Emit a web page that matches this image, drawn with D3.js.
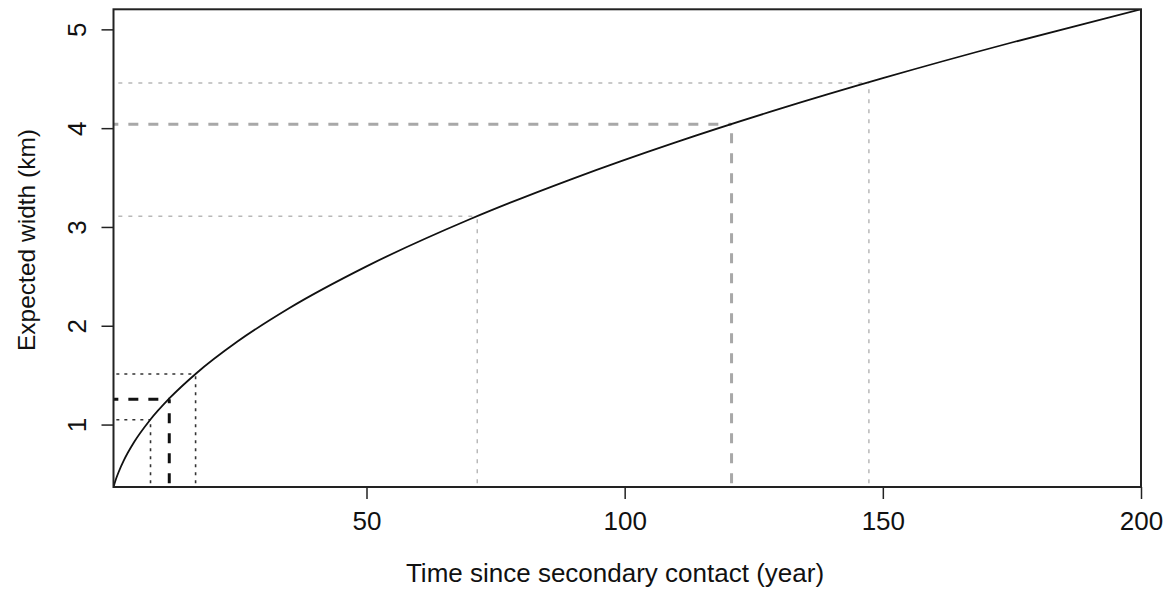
<!DOCTYPE html>
<html>
<head>
<meta charset="utf-8">
<script src="https://cdn.jsdelivr.net/npm/d3@7"></script>
<style>
  html, body { margin: 0; padding: 0; background: #fff; }
  svg { display: block; font-family: "Liberation Sans", Arial, Helvetica, sans-serif; }
</style>
</head>
<body>
<svg id="chart" width="1173" height="589"></svg>
<script>
// Expected cline width over time since secondary contact
const timePoints  = [1, 1.5, 2, 3, 5, 8, 12, 17, 25, 35, 50, 70, 90, 110, 130, 150, 175, 200];
const widthPoints = [0.368, 0.451, 0.520, 0.637, 0.823, 1.041, 1.274, 1.517, 1.840, 2.177, 2.601, 3.078, 3.490, 3.859, 4.195, 4.506, 4.867, 5.203];

// Reference markers: time (year) and the corresponding expected width (km)
const recentTimes   = [8.17, 11.8, 16.9];
const recentWidths  = [1.048, 1.257, 1.511];
const recentStyles  = ["dotted", "dashed", "dotted"];

const olderTimes    = [71.45, 120.7, 147.3];
const olderWidths   = [3.108, 4.04, 4.458];
const olderStyles   = ["dotted", "dashed", "dotted"];

const xTicks = [50, 100, 150, 200];
const yTicks = [1, 2, 3, 4, 5];

const xLabel = "Time since secondary contact (year)";
const yLabel = "Expected width (km)";

const svg = d3.select("#chart");
const plotLeft = 113.5, plotRight = 1141, plotTop = 9.3, plotBottom = 487;

const x = d3.scaleLinear().domain([1, 200]).range([plotLeft, plotRight]);
const y = d3.scaleLinear().domain([0.368, 5.203]).range([plotBottom, plotTop]);

svg.append("clipPath").attr("id", "plotClip")
  .append("rect").attr("x", plotLeft).attr("y", plotTop)
  .attr("width", plotRight - plotLeft).attr("height", plotBottom - plotTop);

const plot = svg.append("g").attr("clip-path", "url(#plotClip)");

// Guide segments: horizontal from t = 0 to the curve, vertical from width = 0 up to the curve
function drawGuides(times, widths, styles, look) {
  times.forEach((t, i) => {
    const st = look[styles[i]];
    const segs = [
      [x(0), y(widths[i]), x(t), y(widths[i])],
      [x(t), y(0), x(t), y(widths[i])]
    ];
    segs.forEach(s => {
      plot.append("line")
        .attr("x1", s[0]).attr("y1", s[1]).attr("x2", s[2]).attr("y2", s[3])
        .attr("stroke", st.color).attr("stroke-width", st.width)
        .attr("stroke-dasharray", st.dash);
    });
  });
}

drawGuides(olderTimes, olderWidths, olderStyles, {
  dotted: { color: "#b8b8b8", width: 1.5, dash: "4,6" },
  dashed: { color: "#a8a8a8", width: 3, dash: "10,10" }
});
drawGuides(recentTimes, recentWidths, recentStyles, {
  dotted: { color: "#333", width: 1.6, dash: "3,5" },
  dashed: { color: "#111", width: 3, dash: "10,10" }
});

// Width curve
const line = d3.line()
  .x((d, i) => x(timePoints[i]))
  .y(d => y(d))
  .curve(d3.curveMonotoneX);

plot.append("path")
  .datum(widthPoints)
  .attr("d", line)
  .attr("fill", "none")
  .attr("stroke", "#111")
  .attr("stroke-width", 1.8);

// Axes
const xAxis = svg.append("g")
  .attr("transform", `translate(0,${plotBottom})`)
  .call(d3.axisBottom(x).tickValues(xTicks).tickSize(12).tickFormat(d3.format("d")));
xAxis.select(".domain").remove();
xAxis.selectAll(".tick line").attr("stroke", "#222").attr("stroke-width", 1.5);
xAxis.selectAll(".tick text")
  .attr("y", 34).attr("dy", "0.35em")
  .attr("font-size", 26).attr("fill", "#111");

const yAxis = svg.append("g")
  .attr("transform", `translate(${plotLeft},0)`)
  .call(d3.axisLeft(y).tickValues(yTicks).tickSize(12).tickFormat(d3.format("d")));
yAxis.select(".domain").remove();
yAxis.selectAll(".tick line").attr("stroke", "#222").attr("stroke-width", 1.5);
yAxis.selectAll(".tick text")
  .attr("x", 0).attr("y", 0).attr("dy", "0.35em")
  .attr("text-anchor", "middle")
  .attr("transform", "translate(-37,0) rotate(-90)")
  .attr("font-size", 26).attr("fill", "#111");

// Plot frame
svg.append("rect")
  .attr("x", plotLeft).attr("y", plotTop)
  .attr("width", plotRight - plotLeft).attr("height", plotBottom - plotTop)
  .attr("fill", "none").attr("stroke", "#222").attr("stroke-width", 2);

// Axis titles
svg.append("text")
  .attr("x", 615).attr("y", 581.5)
  .attr("text-anchor", "middle")
  .attr("font-size", 26).attr("fill", "#111")
  .text(xLabel);

svg.append("text")
  .attr("transform", "translate(26,240) rotate(-90)")
  .attr("dy", "0.35em")
  .attr("text-anchor", "middle")
  .attr("font-size", 24.5).attr("fill", "#111")
  .text(yLabel);
</script>
</body>
</html>
